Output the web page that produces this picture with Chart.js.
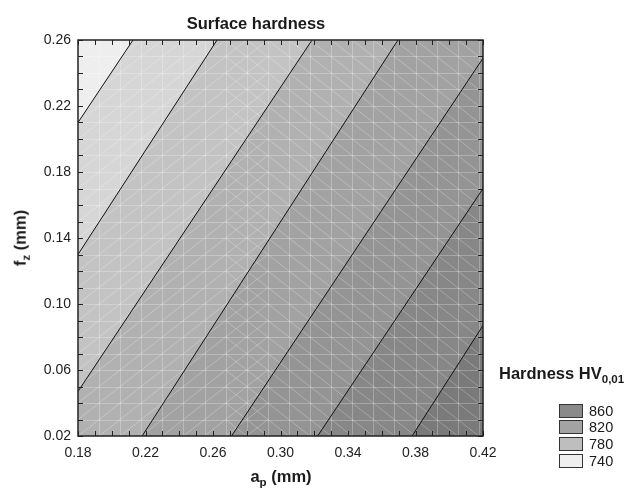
<!DOCTYPE html>
<html lang="en">
<head>
<meta charset="UTF-8">
<title>Surface hardness</title>
<script src="https://cdn.jsdelivr.net/npm/chart.js"></script>
<style>
    body {
        margin: 0;
        background: #fff;
        font-family: 'Liberation Sans', Arial, Helvetica, sans-serif;
        color: #1a1a1a;
    }

    #wrap {
        position: relative;
        width: 630px;
        height: 490px;
    }

    #chart {
        position: absolute;
        left: 0;
        top: 0;
    }

    .label {
        position: absolute;
        font-weight: bold;
        white-space: nowrap;
        line-height: 1;
    }

    .label sub {
        font-size: 70%;
        vertical-align: -0.35em;
    }

    #title {
        font-size: 16.5px;
        left: 256px;
        top: 15px;
        transform: translateX(-50%);
    }

    #xTitle {
        font-size: 16.5px;
        left: 281px;
        top: 468px;
        transform: translateX(-50%);
    }

    #yTitle {
        font-size: 16.5px;
        left: 22px;
        top: 238px;
        transform: translate(-50%, -50%) rotate(-90deg);
    }

    #legendTitle {
        font-size: 16.5px;
        left: 499px;
        top: 365px;
    }

    .legend-row {
        position: absolute;
        left: 559px;
        height: 13px;
        display: flex;
        align-items: center;
        font-size: 14.5px;
    }

    .legend-row .swatch {
        width: 22px;
        height: 12px;
        border: 1px solid #333;
        margin-right: 6px;
    }
</style>
</head>
<body>

<div id="wrap">
    <canvas id="chart" width="630" height="490"></canvas>
    <div class="label" id="title">Surface hardness</div>
    <div class="label" id="yTitle">f<sub>z</sub> (mm)</div>
    <div class="label" id="xTitle">a<sub>p</sub> (mm)</div>
    <div class="label" id="legendTitle">Hardness HV<sub>0,01</sub></div>
    <div id="legend"></div>
</div>

<script>
    // axis ranges and labelled ticks
    const X_MIN = 0.18, X_MAX = 0.42, Y_MIN = 0.02, Y_MAX = 0.26;
    const xTicks = [0.18, 0.22, 0.26, 0.30, 0.34, 0.38, 0.42];
    const yTicks = [0.02, 0.06, 0.10, 0.14, 0.18, 0.22, 0.26];
    const minorStep = 0.01;

    // contour lines: where each one enters (left/bottom edge) and leaves (top/right edge) the frame
    const lineStartAp = [0.180, 0.180, 0.180, 0.218, 0.271, 0.322, 0.378];
    const lineStartFz = [0.210, 0.130, 0.047, 0.020, 0.020, 0.020, 0.020];
    const lineEndAp   = [0.2126, 0.2624, 0.3187, 0.3696, 0.420, 0.420, 0.420];
    const lineEndFz   = [0.260, 0.260, 0.260, 0.260, 0.249, 0.170, 0.087];

    // fill of each band, from the top-left corner to the bottom-right corner
    const bandColors = ['#eeeeee', '#d6d6d6', '#c3c3c3', '#b1b1b1', '#a2a2a2', '#949494', '#878787', '#7a7a7a'];

    // legend
    const legendLevels = [860, 820, 780, 740];
    const legendColors = ['#8a8a8a', '#a3a3a3', '#bebebe', '#efefef'];

    // light triangulation mesh over the surface
    const meshStepAp = 0.0125;
    const meshStepFz = 0.01;

    const eps = 1e-9;

    // position along the frame, counted from the bottom-right corner:
    // bottom 0..1, left 1..2, top 2..3, right 3..4
    function perimT(x, y) {
        const w = X_MAX - X_MIN, h = Y_MAX - Y_MIN;
        if (Math.abs(y - Y_MIN) < eps && x < X_MAX - eps) return (X_MAX - x) / w;
        if (Math.abs(x - X_MIN) < eps) return 1 + (y - Y_MIN) / h;
        if (Math.abs(y - Y_MAX) < eps) return 2 + (x - X_MIN) / w;
        return 3 + (Y_MAX - y) / h;
    }

    const corners = [
        { x: X_MAX, y: Y_MIN },
        { x: X_MIN, y: Y_MIN },
        { x: X_MIN, y: Y_MAX },
        { x: X_MAX, y: Y_MAX }
    ];

    // part of the frame lying to the lower right of contour k
    function regionBelow(k) {
        const s = { x: lineStartAp[k], y: lineStartFz[k] };
        const e = { x: lineEndAp[k], y: lineEndFz[k] };
        const tS = perimT(s.x, s.y) + 4;
        const tE = perimT(e.x, e.y);
        const pts = [e];
        for (let c = 2; c <= 6; c++) {
            if (c > tE + eps && c < tS - eps) pts.push(corners[c % 4]);
        }
        pts.push(s);
        return pts;
    }

    const datasets = [];

    // whole frame in the lightest shade, then each darker band painted over it
    datasets.push({
        data: [corners[0], corners[1], corners[2], corners[3]],
        backgroundColor: bandColors[0],
        borderWidth: 0,
        pointRadius: 0,
        showLine: true,
        fill: 'shape',
        order: 50
    });
    lineStartAp.forEach((_, k) => {
        datasets.push({
            data: regionBelow(k),
            backgroundColor: bandColors[k + 1],
            borderWidth: 0,
            pointRadius: 0,
            showLine: true,
            fill: 'shape',
            order: 49 - k
        });
    });
    const lastBand = datasets.length - 1;

    // contour lines on top
    lineStartAp.forEach((_, k) => {
        datasets.push({
            data: [{ x: lineStartAp[k], y: lineStartFz[k] }, { x: lineEndAp[k], y: lineEndFz[k] }],
            borderColor: '#111',
            borderWidth: 1,
            pointRadius: 0,
            showLine: true,
            fill: false,
            order: 0
        });
    });

    // mesh drawn right after the darkest band
    const meshPlugin = {
        id: 'mesh',
        afterDatasetDraw(chart, args) {
            if (args.index !== lastBand) return;
            const { ctx, chartArea: a, scales: { x, y } } = chart;
            ctx.save();
            ctx.beginPath();
            ctx.rect(a.left, a.top, a.right - a.left, a.bottom - a.top);
            ctx.clip();
            ctx.strokeStyle = 'rgba(255,255,255,0.26)';
            ctx.lineWidth = 1;
            ctx.beginPath();
            for (let ap = X_MIN; ap <= X_MAX + eps; ap += meshStepAp) {
                const px = Math.round(x.getPixelForValue(ap)) + 0.5;
                ctx.moveTo(px, a.top);
                ctx.lineTo(px, a.bottom);
            }
            for (let fz = Y_MIN; fz <= Y_MAX + eps; fz += meshStepFz) {
                const py = Math.round(y.getPixelForValue(fz)) + 0.5;
                ctx.moveTo(a.left, py);
                ctx.lineTo(a.right, py);
            }
            for (let ap = X_MIN; ap < X_MAX - eps; ap += meshStepAp) {
                const mid = ap + meshStepAp / 2;
                for (let fz = Y_MIN; fz < Y_MAX - eps; fz += meshStepFz) {
                    const x0 = x.getPixelForValue(ap), x1 = x.getPixelForValue(ap + meshStepAp);
                    const y0 = y.getPixelForValue(fz), y1 = y.getPixelForValue(fz + meshStepFz);
                    if (mid < 0.29) { ctx.moveTo(x0, y0); ctx.lineTo(x1, y1); }
                    if (mid > 0.265) { ctx.moveTo(x0, y1); ctx.lineTo(x1, y0); }
                }
            }
            ctx.stroke();
            ctx.restore();
        }
    };

    // frame with inward ticks on every side
    const framePlugin = {
        id: 'frame',
        afterDraw(chart) {
            const { ctx, chartArea: a, scales: { x, y } } = chart;
            const len = 5;
            ctx.save();
            ctx.strokeStyle = '#222';
            ctx.lineWidth = 1;
            ctx.beginPath();
            for (let v = X_MIN; v <= X_MAX + eps; v += minorStep) {
                const px = Math.round(x.getPixelForValue(v)) + 0.5;
                ctx.moveTo(px, a.bottom); ctx.lineTo(px, a.bottom - len);
                ctx.moveTo(px, a.top); ctx.lineTo(px, a.top + len);
            }
            for (let v = Y_MIN; v <= Y_MAX + eps; v += minorStep) {
                const py = Math.round(y.getPixelForValue(v)) + 0.5;
                ctx.moveTo(a.left, py); ctx.lineTo(a.left + len, py);
                ctx.moveTo(a.right, py); ctx.lineTo(a.right - len, py);
            }
            ctx.stroke();
            ctx.lineWidth = 1.5;
            ctx.strokeRect(a.left, a.top, a.right - a.left, a.bottom - a.top);
            ctx.restore();
        }
    };

    const tickFont = { family: "'Liberation Sans', Arial, sans-serif", size: 14 };

    new Chart(document.getElementById('chart'), {
        type: 'scatter',
        data: { datasets },
        options: {
            responsive: false,
            animation: false,
            events: [],
            layout: { padding: { left: 0, right: 147, top: 40, bottom: 0 } },
            plugins: {
                legend: { display: false },
                tooltip: { enabled: false },
                title: { display: false }
            },
            scales: {
                x: {
                    type: 'linear',
                    min: X_MIN,
                    max: X_MAX,
                    afterFit: s => { s.height = 54; },
                    afterBuildTicks: s => { s.ticks = xTicks.map(v => ({ value: v })); },
                    ticks: {
                        padding: 9,
                        color: '#222',
                        font: tickFont,
                        maxRotation: 0,
                        autoSkip: false,
                        callback: v => v.toFixed(2)
                    },
                    grid: { display: false, drawTicks: false },
                    border: { display: false }
                },
                y: {
                    type: 'linear',
                    min: Y_MIN,
                    max: Y_MAX,
                    afterFit: s => { s.width = 78; },
                    afterBuildTicks: s => { s.ticks = yTicks.map(v => ({ value: v })); },
                    ticks: {
                        padding: 7,
                        color: '#222',
                        font: tickFont,
                        autoSkip: false,
                        callback: v => v.toFixed(2)
                    },
                    grid: { display: false, drawTicks: false },
                    border: { display: false }
                }
            }
        },
        plugins: [meshPlugin, framePlugin]
    });

    // legend rows
    const legend = document.getElementById('legend');
    legendLevels.forEach((lvl, i) => {
        const row = document.createElement('div');
        row.className = 'legend-row';
        row.style.top = (404 + i * 16.8) + 'px';
        row.innerHTML = '<div class="swatch" style="background:' + legendColors[i] + '"></div>' + lvl;
        legend.appendChild(row);
    });
</script>

</body>
</html>
